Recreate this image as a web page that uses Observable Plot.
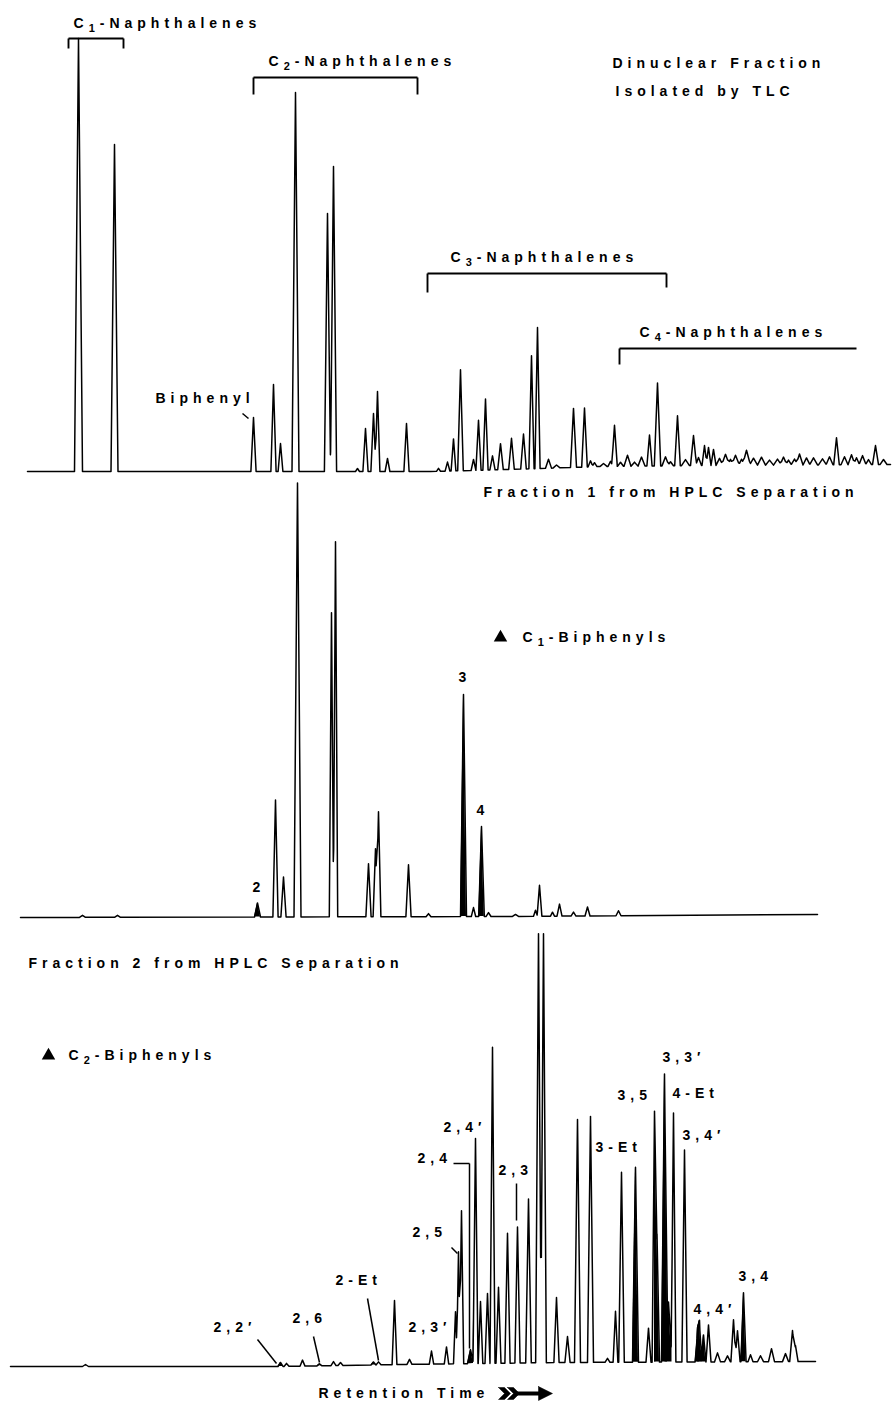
<!DOCTYPE html>
<html><head><meta charset="utf-8">
<script src="https://cdn.jsdelivr.net/npm/d3@7"></script>
<script src="https://cdn.jsdelivr.net/npm/@observablehq/plot@0.6"></script>
<style>
html,body{margin:0;padding:0;background:#fff;}
#page{position:relative;width:894px;height:1403px;overflow:hidden;background:#fff;}
</style></head><body><div id="page"></div>
<script>
const W = 894;

// ---------- Panel 1: Dinuclear fraction isolated by TLC ----------
// baseline drift [retention, offset]
const p1Base = [[27,0],[430,0],[470,1],[540,3],[600,5],[700,6],[890,7]];
// peaks [retention, height, half-width, filled]
const p1Peaks = [[78,433,4],[114,327,3.5],[253,54,2.6],[273,87,2.6],[280,28,2.4],[295,379,3.5],
 [327,258,3.1],[333,305,3.1],[357,3,2],[365,43,2.6],[373,58,2.6],[377,80,2.4],[387,13,2.4],[406,48,2.6],
 [438,3,2],[447,9,2.4],[453,32,2.4],[460,101,2.8],[473,11,2.4],[478,50,2.6],[485,71,2.6],[492,14,2.6],
 [500,26,2.8],[511,31,2.8],[523,35,2.8],[531,113,2.6],[537,141,2.6],[548,9,3],[556,3,3.5],[573,59,3],
 [584,59,2.8],[590,6,2.5],[594,4,2.5],[603,3,3.5],[610,5,2.5],[614,41,2.8],[620,4,3],[627,11,3.5],
 [634,4,3.5],[641,9,3.5],[649,31,2.6],[657,83,3.2],[665,9,3.5],[670,4,3],[677,50,2.8],[685,6,4],
 [693,30,3],[698,8,3],[704,20,2.5],[708,18,2.5],[713,16,2.5],[719,7,3.5],[725,11,4],[730,6,3],
 [735,10,4],[741,6,3],[746,15,4],[753,7,4],[761,8,4],[769,5,4],[777,6,4],[783,8,3.5],[788,5,3],
 [794,6,3.5],[799,11,3.5],[806,7,3.5],[813,7,4],[822,6,4],[829,8,3.5],[836,27,2.8],[844,8,3.5],
 [851,10,3.5],[856,7,3],[862,9,3.5],[868,5,3],[875,19,3],[883,5,3.5]];
const p1Labels = [
 {t:"C_1-Naphthalenes", x:73, y:448},
 {t:"C_2-Naphthalenes", x:268, y:410},
 {t:"Dinuclear Fraction", x:612, y:408},
 {t:"Isolated by TLC", x:615, y:380},
 {t:"C_3-Naphthalenes", x:450, y:214},
 {t:"C_4-Naphthalenes", x:639, y:139},
 {t:"Biphenyl", x:155, y:73}
];
const p1Brackets = [
 {x1:68, x2:123, y:433, yl:423, yr:423},
 {x1:253, x2:417, y:394, yl:377, yr:377},
 {x1:427, x2:666, y:198, yl:179, yr:184},
 {x1:619, x2:856, y:123, yl:107, yr:null}
];
const p1Leaders = [{x1:242, y1:58, x2:248, y2:53}];

// ---------- Panel 2: Fraction 1 from HPLC ----------
const p2Base = [[20,0],[500,1],[817,3]];
const p2Peaks = [[82,2,3],[117,2,3],[257,14,3,1],[275,117,2.6],[283,40,2.6],[297,434,3.5],
 [331,304,2.2],[335,375,2.2],[368,53,2.6],[375,68,2.4],[378,105,2.4],[408,52,2.6],[428,3,2.5],
 [463,222,3,1],[473,9,2.2],[481,90,2.8,1],[488,4,2.5],[515,2,3],[535,6,2],[539,31,2.4],[552,4,2],
 [559,12,2.5],[573,4,2.5],[587,9,2.5],[618,5,2.5]];
const p2Labels = [
 {t:"Fraction 1 from HPLC Separation", x:483, y:425},
 {t:"C_1-Biphenyls", x:522, y:280},
 {t:"3", x:458, y:240},
 {t:"4", x:476, y:107},
 {t:"2", x:252, y:30}
];
const p2Markers = [{x:500, y:280}];

// ---------- Panel 3: Fraction 2 from HPLC ----------
const p3Base = [[10,0],[280,0],[400,2],[560,4],[815,5]];
const p3Peaks = [[85,2,3],[280,4,2.5,1],[286,3,2.5],[302,6,2.5],[319,2,2.5,1],[333,4,2.5],[340,3,2.5],
 [373,3,2.5,1],[378,3,2.5],[394,64,2.4],[409,5,2.5],[431,13,2.2],[446,17,2.2],[455,52,2],[458,112,2],
 [461,153,2.2],[470,14,3,1],[475,225,2.5],[480,62,2.3],[487,70,2.5],[492,316,2.5],[498,76,2.5],
 [507,130,2.6],[517,136,2.6],[528,164,2.8],[538,429,2.85],[543,429,2.85],[556,65,2.6],[567,26,2.6],
 [577,243,3],[590,246,3],[607,4,2.5],[615,51,2.4],[621,190,2.8],[635,195,3,1],[648,34,2.5],
 [654,251,2.4],[656.5,128,2.5,1],[664,288,3,1],[668,60,3.5,1],[673,249,2.4],[684,212,2.6],
 [697,28,2.4,1],[699,37,2.4,1],[703,27,2.4,1],[708,37,2.5],[717,9,3],[727,6,3],[733,42,2.6],
 [737,31,2.6],[743,69,2.6,1],[750,7,2.5],[760,6,3],[771,13,3],[785,8,3],[792,31,2.8],[795,16,2.6]];
const p3Labels = [
 {t:"Fraction 2 from HPLC Separation", x:28, y:403},
 {t:"C_2-Biphenyls", x:68, y:311},
 {t:"2,2′", x:213, y:39},
 {t:"2,6", x:292, y:48},
 {t:"2-Et", x:335, y:86},
 {t:"2,3′", x:408, y:39},
 {t:"2,5", x:412, y:134},
 {t:"2,4", x:417, y:208},
 {t:"2,4′", x:443, y:239},
 {t:"2,3", x:498, y:196},
 {t:"3-Et", x:595, y:219},
 {t:"3,5", x:617, y:271},
 {t:"3,3′", x:662, y:309},
 {t:"4-Et", x:672, y:273},
 {t:"3,4′", x:682, y:231},
 {t:"4,4′", x:693, y:57},
 {t:"3,4", x:738, y:90},
 {t:"Retention Time", x:318, y:-27}
];
const p3Markers = [{x:48, y:311}];
const p3Leaders = [
 {x1:257, y1:27, x2:276, y2:3},
 {x1:313, y1:30, x2:319, y2:4},
 {x1:367, y1:68, x2:378, y2:6},
 {x1:451, y1:119, x2:457, y2:113},
 {x1:453, y1:203, x2:469, y2:203},
 {x1:469, y1:203, x2:469, y2:18},
 {x1:516, y1:183, x2:516, y2:146}
];
const p3Arrow = {x1:498, x2:552, y:-27};

// ---------- helpers ----------
function baseAt(base, x) {
  for (let i = 1; i < base.length; i++) {
    if (x <= base[i][0]) {
      const [xa, ya] = base[i-1], [xb, yb] = base[i];
      return ya + (yb - ya) * (x - xa) / (xb - xa);
    }
  }
  return base[base.length-1][1];
}
function trace(peaks, base) {
  const x0 = base[0][0], x1 = base[base.length-1][0];
  const xs = new Set(base.map(d => d[0]));
  for (const [x, h, hw=2.6] of peaks) { xs.add(x-hw); xs.add(x); xs.add(x+hw); }
  const arr = [...xs].filter(x => x >= x0 && x <= x1).sort((a,b) => a-b);
  return arr.map(x => {
    let s = 0;
    for (const [px, h, hw=2.6] of peaks) {
      const d = Math.abs(x - px);
      if (d < hw) s += h * (1 - d/hw);
    }
    const b = baseAt(base, x);
    return {x, b, y: b + s};
  });
}
function fills(peaks, tr) {
  const out = [];
  peaks.forEach(([x, h, hw=2.6, f], i) => {
    if (!f) return;
    tr.filter(d => d.x >= x-hw-1e-9 && d.x <= x+hw+1e-9).forEach(d => out.push({...d, id:i}));
  });
  return out;
}
const FONT = "'Liberation Sans', Arial, Helvetica, sans-serif";
const textOpts = {x:"x", y:"y", text:"t", textAnchor:"start", fontSize:14, fontWeight:"bold", fill:"black"};

function panel({top, height, mb, ymax, base, peaks, labels, brackets=[], leaders=[], markers=[], extra=[]}) {
  const tr = trace(peaks, base);
  const fl = fills(peaks, tr);
  const ticks = [];
  brackets.forEach(b => {
    ticks.push({x1:b.x1, y1:b.y, x2:b.x1, y2:b.yl});
    if (b.yr != null) ticks.push({x1:b.x2, y1:b.y, x2:b.x2, y2:b.yr});
  });
  const marks = [
    Plot.area(fl, {x1:"x", y1:"b", y2:"y", z:"id", fill:"black", curve:"linear"}),
    Plot.line(tr, {x:"x", y:"y", stroke:"black", strokeWidth:1.5, strokeLinejoin:"round"}),
    Plot.link(brackets, {x1:"x1", x2:"x2", y1:"y", y2:"y", stroke:"black", strokeWidth:1.9}),
    Plot.link(ticks, {x1:"x1", x2:"x2", y1:"y1", y2:"y2", stroke:"black", strokeWidth:1.9}),
    Plot.link(leaders, {x1:"x1", x2:"x2", y1:"y1", y2:"y2", stroke:"black", strokeWidth:1.5}),
    Plot.dot(markers, {x:"x", y:"y", symbol:"triangle", r:5, fill:"black", stroke:"none"}),
    Plot.text(labels, textOpts),
    ...extra
  ];
  const svg = Plot.plot({
    width: W, height, marginTop:0, marginBottom:mb, marginLeft:0, marginRight:0,
    x:{domain:[0, W], axis:null}, y:{domain:[0, ymax], axis:null},
    style:{fontFamily:FONT, letterSpacing:"5px", background:"transparent", overflow:"visible"},
    marks
  });
  svg.style.position = "absolute";
  svg.style.left = "0px";
  svg.style.top = top + "px";
  // subscripts written as C_1
  svg.querySelectorAll("text").forEach(el => {
    const m = /^(.*?)_(\d)(.*)$/.exec(el.textContent);
    if (!m) return;
    el.textContent = "";
    const ns = "http://www.w3.org/2000/svg";
    const a = document.createElementNS(ns, "tspan"); a.textContent = m[1];
    const b = document.createElementNS(ns, "tspan"); b.textContent = m[2];
    b.setAttribute("dy", "4"); b.setAttribute("font-size", "11");
    const c = document.createElementNS(ns, "tspan"); c.textContent = m[3];
    c.setAttribute("dy", "-4");
    el.append(a, b, c);
  });
  document.getElementById("page").appendChild(svg);
}

// arrow pieces derived from the arrow spec
const A = p3Arrow;
const chev = o => [[o,6],[o+6,6],[o+12,0],[o+6,-6],[o,-6],[o+6,0],[o,6]].map(([x,dy]) => ({x, y:A.y+dy, g:"c"+o}));
const arrowTail = [...chev(A.x1), ...chev(A.x1+9)];
const arrowHead = [[A.x2-14,7],[A.x2,0],[A.x2-14,-7],[A.x2-14,7]].map(([x,dy]) => ({x, y:A.y+dy}));
const arrowShaft = [{x1:A.x1+17, x2:A.x2-12, y:A.y}];

panel({top:0, height:480, mb:9, ymax:471, base:p1Base, peaks:p1Peaks, labels:p1Labels,
  brackets:p1Brackets, leaders:p1Leaders});
panel({top:480, height:445, mb:8, ymax:437, base:p2Base, peaks:p2Peaks, labels:p2Labels,
  markers:p2Markers});
panel({top:925, height:478, mb:37, ymax:441, base:p3Base, peaks:p3Peaks, labels:p3Labels,
  markers:p3Markers, leaders:p3Leaders, extra:[
    Plot.line(arrowTail, {x:"x", y:"y", z:"g", fill:"black", stroke:"black", strokeWidth:0.5}),
    Plot.link(arrowShaft, {x1:"x1", x2:"x2", y1:"y", y2:"y", stroke:"black", strokeWidth:4}),
    Plot.line(arrowHead, {x:"x", y:"y", fill:"black", stroke:"black", strokeWidth:0.5})
  ]});
</script>
</body></html>
